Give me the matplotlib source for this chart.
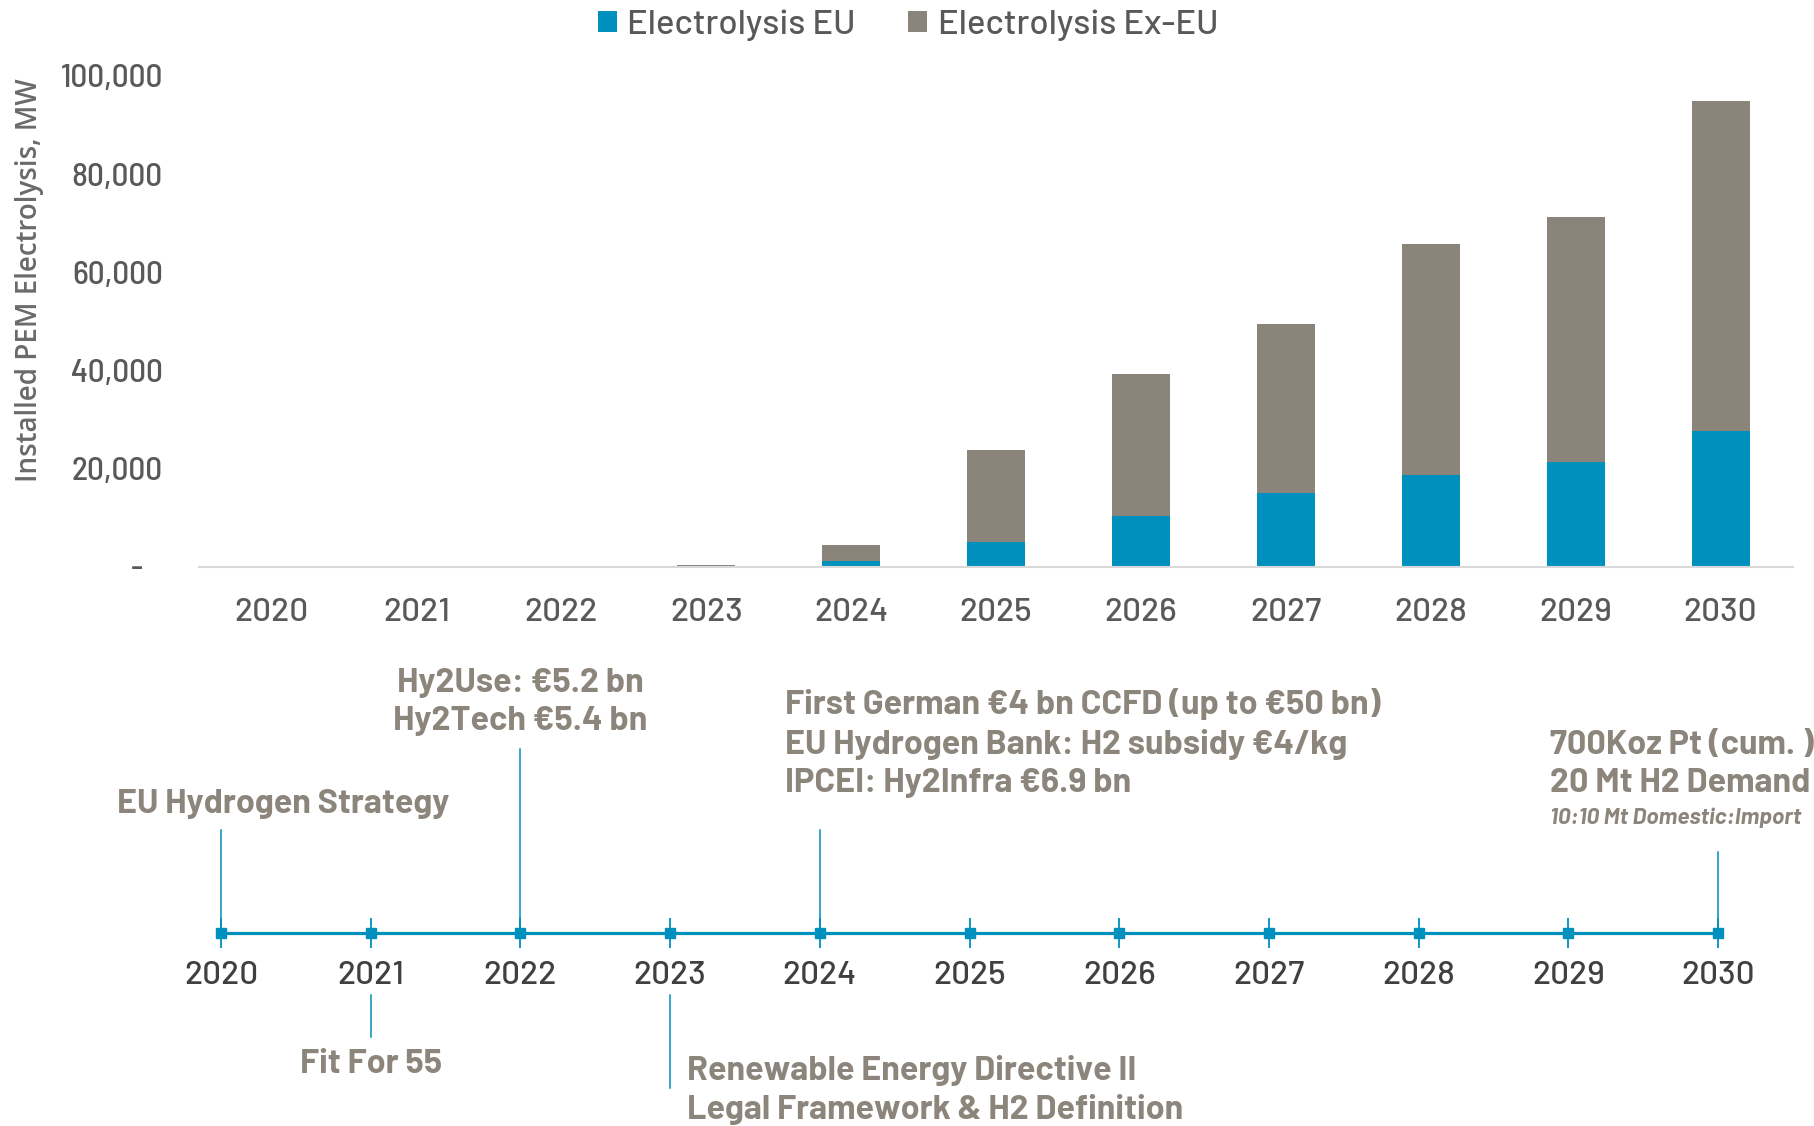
import matplotlib.pyplot as plt
from matplotlib.ticker import FuncFormatter

plt.rcParams['font.family'] = ['Barlow Semi Condensed', 'DejaVu Sans']
wide = ['Barlow', 'DejaVu Sans']

years = ['2020', '2021', '2022', '2023', '2024', '2025', '2026', '2027', '2028', '2029', '2030']
eu_mw = [0, 0, 0, 0, 1300, 5000, 10300, 15100, 18700, 21400, 27600]
ex_eu_mw = [0, 0, 0, 400, 3200, 18800, 29100, 34400, 47000, 49800, 67300]

timeline_years = list(range(2020, 2031))
milestone_years = [2020, 2021, 2022, 2023, 2024, 2030]
milestone_labels = [
    'EU Hydrogen Strategy',
    'Fit For 55',
    'Hy2Use: €5.2 bn\nHy2Tech €5.4 bn',
    'Renewable Energy Directive II\nLegal Framework & H2 Definition',
    'First German €4 bn CCFD (up to €50 bn)\nEU Hydrogen Bank: H2 subsidy €4/kg\nIPCEI: Hy2Infra €6.9 bn',
    '700Koz Pt (cum. )\n20 Mt H2 Demand',
]
note_2030 = '10:10 Mt Domestic:Import'

blue = '#0090BD'
grey = '#8B847A'
txt_grey = '#8C857B'

W, H = 1814, 1126
fig = plt.figure(figsize=(W / 100, H / 100), dpi=100)

# --- stacked bars ---
ax = fig.add_axes([199 / W, (H - 567) / H, 1594 / W, 491 / H])
x = range(len(years))
b1 = ax.bar(x, eu_mw, width=0.4, color=blue, label='Electrolysis EU')
b2 = ax.bar(x, ex_eu_mw, width=0.4, bottom=eu_mw, color=grey, label='Electrolysis Ex-EU')
ax.set_xlim(-0.5, 10.5)
ax.set_ylim(0, 100000)
ax.set_yticks(range(0, 100001, 20000))
ax.yaxis.set_major_formatter(FuncFormatter(lambda v, p: '-   ' if v == 0 else f'{v:,.0f}'))
ax.set_xticks(list(x))
ax.set_xticklabels(years)
ax.tick_params(axis='y', length=0, pad=26, labelsize=24, labelcolor='#595959')
ax.tick_params(axis='x', length=0, pad=22, labelsize=24, labelcolor='#595959')
for t in ax.get_yticklabels():
    t.set_fontweight('medium')
for t in ax.get_xticklabels():
    t.set_fontweight('medium')
    t.set_family(wide)
for s in ['top', 'right', 'left']:
    ax.spines[s].set_visible(False)
ax.spines['bottom'].set_color('#D9D9D9')
ax.spines['bottom'].set_linewidth(1.5)

fig.legend(handles=[b1, b2], loc='center', bbox_to_anchor=(908 / W, 1 - 25 / H), ncol=2,
           frameon=False, prop={'family': wide, 'size': 25, 'weight': 'medium'},
           labelcolor='#595959', handlelength=0.55, handleheight=0.55,
           handletextpad=0.3, columnspacing=1.5)

fig.text(30 / W, 1 - 280 / H, 'Installed PEM Electrolysis, MW', rotation=90,
         ha='center', va='center', fontsize=20, color='#6A6A6A',
         family=['Open Sans', 'DejaVu Sans'], fontweight='semibold')

# --- timeline ---
ax2 = fig.add_axes([0, 0, 1, 1])
ax2.set_xlim(2020 - 221 / 149.7, 2030 + (W - 1718) / 149.7)
ax2.set_ylim(H, 0)
ax2.axis('off')
ax2.patch.set_alpha(0)

ty = 933
ax2.plot([timeline_years[0], timeline_years[-1]], [ty, ty], color=blue, lw=2.3)
ax2.plot(timeline_years, [ty] * len(timeline_years), ls='none', marker='|', ms=22,
         mew=1.3, color=blue)
ax2.plot(timeline_years, [ty] * len(timeline_years), ls='none', marker='s', ms=7.5,
         color=blue)
for yr in timeline_years:
    ax2.text(yr, 976, str(yr), ha='center', va='center', fontsize=24, color='#404040',
             family=wide, fontweight='medium')

# connector lines (year -> y range) and label placement
conn = {2020: (830, ty), 2021: (995, 1037), 2022: (749, ty), 2023: (995, 1088),
        2024: (830, ty), 2030: (852, ty)}
place = {2020: (2020 - 104 / 149.7, 804, 'left'),
         2021: (2021, 1064, 'center'),
         2022: (2022, 702, 'center'),
         2023: (2023 + 17 / 149.7, 1090, 'left'),
         2024: (2024 - 35 / 149.7, 743, 'left'),
         2030: (2030 - 168 / 149.7, 764, 'left')}
for yr, lab in zip(milestone_years, milestone_labels):
    y0, y1 = conn[yr]
    ax2.plot([yr, yr], [y0, y1], color=blue, lw=1.1)
    px, py, ha = place[yr]
    ax2.text(px, py, lab, ha=ha, va='center', fontsize=24.5, fontweight='bold',
             color=txt_grey, linespacing=1.33, family=wide)
ax2.text(2030 - 168 / 149.7, 818, note_2030, ha='left', va='center', fontsize=16.5,
         fontweight='bold', fontstyle='italic', color=txt_grey, family=wide)

fig.savefig('out.png', dpi=100)
